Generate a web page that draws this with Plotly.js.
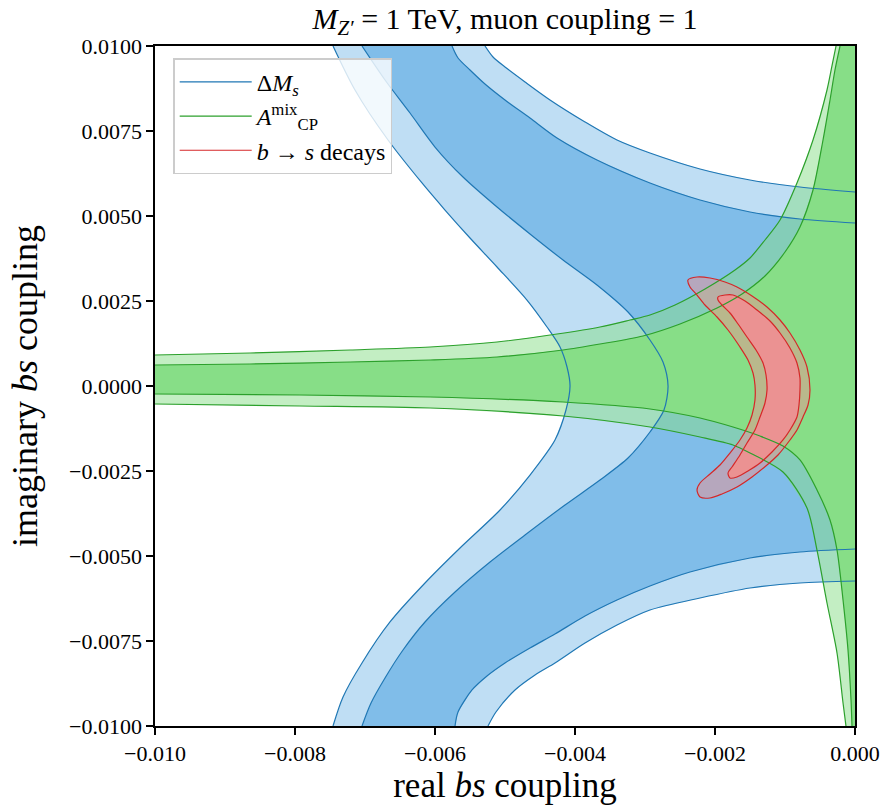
<!DOCTYPE html>
<html>
<head>
<meta charset="utf-8">
<script src="https://cdn.plot.ly/plotly-3.0.1.min.js"></script>
<style>html,body{margin:0;padding:0;background:#fff;}#chart{width:889px;height:807px;}</style>
</head>
<body>
<div id="chart"></div>
<script>
// Axis limits and ticks
const xRange = [-0.010, 0.000];
const yRange = [-0.0100, 0.0100];
const xTicks = [-0.010, -0.008, -0.006, -0.004, -0.002, 0.000];
const yTicks = [-0.0100, -0.0075, -0.0050, -0.0025, 0.0000, 0.0025, 0.0050, 0.0075, 0.0100];

// Delta M_s : 2 sigma boundary, left branch (top -> bottom)
const dmsOuterLeftX = [-0.007457,-0.007143,-0.006671,-0.006186,-0.005857,-0.0055,-0.005114,-0.004686,-0.0044,-0.004214,-0.004114,-0.004071,-0.004129,-0.004286,-0.004643,-0.005071,-0.005643,-0.006143,-0.006643,-0.007043,-0.007314,-0.007457];
const dmsOuterLeftY = [0.0100,0.008706,0.007235,0.005971,0.005176,0.004353,0.0035,0.002529,0.001735,0.001147,0.000559,0,-0.000706,-0.001588,-0.002618,-0.003647,-0.004765,-0.005794,-0.006941,-0.008147,-0.009147,-0.0100];
// Delta M_s : 1 sigma boundary, left branch (top -> bottom)
const dmsInnerLeftX = [-0.007043,-0.006714,-0.006357,-0.0060,-0.0056,-0.005114,-0.004643,-0.004171,-0.003686,-0.003243,-0.002929,-0.002743,-0.002671,-0.002729,-0.002929,-0.003243,-0.003643,-0.004143,-0.004714,-0.005214,-0.005714,-0.006143,-0.006457,-0.006714,-0.006914,-0.007043];
const dmsInnerLeftY = [0.0100,0.0090,0.008029,0.007029,0.006147,0.005265,0.004471,0.003706,0.002971,0.002176,0.001353,0.000706,0,-0.000706,-0.001353,-0.002118,-0.002765,-0.0035,-0.004382,-0.005176,-0.006059,-0.006941,-0.007765,-0.008588,-0.009324,-0.0100];
// Delta M_s : 1 sigma boundary, upper branch (top edge -> right edge)
const dmsInnerUpX = [-0.005757,-0.005671,-0.0055,-0.005286,-0.0050,-0.004643,-0.004257,-0.003686,-0.002929,-0.002214,-0.0015,-0.000786,0];
const dmsInnerUpY = [0.0100,0.009647,0.009294,0.008882,0.008412,0.007882,0.007294,0.006647,0.005971,0.005471,0.005118,0.004912,0.004794];
// Delta M_s : 2 sigma boundary, upper branch
const dmsOuterUpX = [-0.005286,-0.005171,-0.0050,-0.004714,-0.004357,-0.003857,-0.0034,-0.002929,-0.002214,-0.0015,-0.000786,0];
const dmsOuterUpY = [0.0100,0.009676,0.009382,0.008941,0.008412,0.007765,0.007235,0.006853,0.006382,0.006059,0.005853,0.005706];
// Delta M_s : 1 sigma boundary, lower branch (bottom edge -> right edge)
const dmsInnerLowX = [-0.005714,-0.005671,-0.005471,-0.005257,-0.0050,-0.004643,-0.004286,-0.003857,-0.0034,-0.002929,-0.002357,-0.0015,-0.000786,0];
const dmsInnerLowY = [-0.0100,-0.009588,-0.008941,-0.008529,-0.008147,-0.007706,-0.007294,-0.006765,-0.006294,-0.005882,-0.005471,-0.005059,-0.004882,-0.004794];
// Delta M_s : 2 sigma boundary, lower branch
const dmsOuterLowX = [-0.005243,-0.005129,-0.004857,-0.004571,-0.004286,-0.003857,-0.0034,-0.002929,-0.002214,-0.0015,-0.000786,0];
const dmsOuterLowY = [-0.0100,-0.009588,-0.008941,-0.0085,-0.008147,-0.007559,-0.007029,-0.006588,-0.006235,-0.005941,-0.005794,-0.005735];

// A_CP^mix : 2 sigma boundary, upper (left edge -> top edge)
const acpOuterUpX = [-0.010,-0.008643,-0.007214,-0.006071,-0.005114,-0.004257,-0.003643,-0.003214,-0.002929,-0.002571,-0.002143,-0.001714,-0.0015,-0.001286,-0.001071,-0.000829,-0.0006,-0.0004,-0.000329,-0.000271];
const acpOuterUpY = [0.000912,0.000971,0.001059,0.001147,0.001294,0.001529,0.001735,0.001941,0.002088,0.002382,0.002853,0.003412,0.003765,0.004294,0.004882,0.005971,0.007235,0.008706,0.009412,0.0100];
// A_CP^mix : 1 sigma boundary, upper
const acpInnerUpX = [-0.010,-0.008643,-0.007214,-0.006071,-0.005114,-0.004171,-0.003643,-0.003029,-0.0025,-0.001971,-0.001614,-0.001286,-0.0010,-0.000786,-0.0006,-0.000457,-0.000357,-0.000286,-0.000214];
const acpInnerUpY = [0.000618,0.000647,0.000706,0.000765,0.000853,0.001059,0.001235,0.001471,0.001824,0.002294,0.002706,0.003235,0.003941,0.004676,0.005765,0.007235,0.008412,0.009294,0.0100];
// A_CP^mix : 1 sigma boundary, lower (left edge -> bottom edge)
const acpInnerLowX = [-0.010,-0.007929,-0.006071,-0.004171,-0.002929,-0.002214,-0.001743,-0.001357,-0.001029,-0.000786,-0.000543,-0.000357,-0.000257,-0.000171,-0.0001,-0.000057,-0.000043];
const acpInnerLowY = [-0.000235,-0.000265,-0.000324,-0.000471,-0.000676,-0.000941,-0.001206,-0.001471,-0.001765,-0.002176,-0.003059,-0.003941,-0.004824,-0.006294,-0.007765,-0.009235,-0.0100];
// A_CP^mix : 2 sigma boundary, lower
const acpOuterLowX = [-0.010,-0.007929,-0.006071,-0.004171,-0.002929,-0.002214,-0.001743,-0.0015,-0.001029,-0.000686,-0.000543,-0.0004,-0.000257,-0.000171,-0.000129];
const acpOuterLowY = [-0.000529,-0.000588,-0.000647,-0.000882,-0.001206,-0.0015,-0.001735,-0.001971,-0.002529,-0.003588,-0.004824,-0.006382,-0.007853,-0.009324,-0.0100];

// b -> s decays : 2 sigma closed contour
const bsOuterX = [-0.002386,-0.002257,-0.002071,-0.001857,-0.001686,-0.001471,-0.001257,-0.001071,-0.000929,-0.000786,-0.000686,-0.000643,-0.000671,-0.000743,-0.000829,-0.000929,-0.0011,-0.001257,-0.001471,-0.001686,-0.0019,-0.002071,-0.002214,-0.002257,-0.002214,-0.002071,-0.001929,-0.001786,-0.001643,-0.001543,-0.001471,-0.001429,-0.001429,-0.001457,-0.001529,-0.001643,-0.001814,-0.001971,-0.002143,-0.002257,-0.002357];
const bsOuterY = [0.003118,0.003206,0.003176,0.003059,0.002912,0.002647,0.002324,0.001941,0.001559,0.001059,0.000559,-0.000118,-0.000559,-0.000912,-0.001294,-0.001588,-0.002029,-0.002324,-0.002676,-0.002971,-0.003176,-0.003294,-0.003265,-0.003059,-0.002853,-0.002588,-0.002324,-0.001971,-0.001588,-0.001235,-0.000853,-0.000412,0.000029,0.000382,0.000765,0.001147,0.001647,0.002029,0.002382,0.002676,0.002912];
// b -> s decays : 1 sigma closed contour
const bsInnerX = [-0.001957,-0.001857,-0.001743,-0.001571,-0.0014,-0.001214,-0.001071,-0.000929,-0.000829,-0.000786,-0.000786,-0.0008,-0.000829,-0.000929,-0.001029,-0.001186,-0.001357,-0.001529,-0.001686,-0.001786,-0.001814,-0.001757,-0.001643,-0.001543,-0.001429,-0.001357,-0.001286,-0.001257,-0.001271,-0.001314,-0.001414,-0.001543,-0.001671,-0.001786,-0.0019,-0.001957];
const bsInnerY = [0.002618,0.002676,0.002676,0.0025,0.002235,0.001912,0.001559,0.001118,0.000676,0.000235,-0.000118,-0.000559,-0.000912,-0.001294,-0.001588,-0.001941,-0.002265,-0.0025,-0.002676,-0.002706,-0.002559,-0.002382,-0.002029,-0.001676,-0.001294,-0.000912,-0.0005,-0.000118,0.000324,0.000676,0.001059,0.001441,0.001824,0.002147,0.002382,0.002529];

// Legend labels
const seriesNames = ['Δ<i>M</i><sub><i>s</i></sub>', '<i>A</i><sup>mix</sup><sub>CP</sub>', '<i>b</i> → <i>s</i> decays'];

const blueLine = '#1f77b4', greenLine = '#2ca02c', redLine = '#d62728';
const blueFill = 'rgb(128,189,233)', greenFill = 'rgb(135,222,135)', redFill = 'rgb(235,146,146)';
const blueFill2 = 'rgba(128,189,233,0.5)', greenFill2 = 'rgba(135,222,135,0.5)', redFill2 = 'rgba(235,146,146,0.5)';

const rev = a => a.slice().reverse();
const poly = (x, y, c) => ({type:'scatter', mode:'lines', x, y, fill:'toself', fillcolor:c,
  line:{width:0, color:c}, hoverinfo:'skip', showlegend:false});
const curve = (x, y, c, name) => ({type:'scatter', mode:'lines', x, y,
  line:{color:c, width:1.2, shape:'spline', smoothing:0.8}, hoverinfo:'skip',
  name: name || '', showlegend: !!name});

const traces = [
  // Delta M_s fills
  poly(dmsOuterUpX.concat(rev(dmsOuterLowX), rev(dmsOuterLeftX)),
       dmsOuterUpY.concat(rev(dmsOuterLowY), rev(dmsOuterLeftY)), blueFill2),
  poly(dmsInnerUpX.concat(rev(dmsInnerLowX), rev(dmsInnerLeftX)),
       dmsInnerUpY.concat(rev(dmsInnerLowY), rev(dmsInnerLeftY)), blueFill),
  // A_CP fills
  poly(acpOuterUpX.concat([xRange[1], xRange[1]], rev(acpOuterLowX)),
       acpOuterUpY.concat([yRange[1], yRange[0]], rev(acpOuterLowY)), greenFill2),
  poly(acpInnerUpX.concat([xRange[1], xRange[1]], rev(acpInnerLowX)),
       acpInnerUpY.concat([yRange[1], yRange[0]], rev(acpInnerLowY)), greenFill),
  // b->s fills
  poly(bsOuterX, bsOuterY, redFill2),
  poly(bsInnerX, bsInnerY, redFill),
  // contour lines
  curve(dmsOuterLeftX, dmsOuterLeftY, blueLine, seriesNames[0]),
  curve(dmsInnerLeftX, dmsInnerLeftY, blueLine),
  curve(dmsInnerUpX, dmsInnerUpY, blueLine),
  curve(dmsOuterUpX, dmsOuterUpY, blueLine),
  curve(dmsInnerLowX, dmsInnerLowY, blueLine),
  curve(dmsOuterLowX, dmsOuterLowY, blueLine),
  curve(acpOuterUpX, acpOuterUpY, greenLine, seriesNames[1]),
  curve(acpInnerUpX, acpInnerUpY, greenLine),
  curve(acpInnerLowX, acpInnerLowY, greenLine),
  curve(acpOuterLowX, acpOuterLowY, greenLine),
  curve(bsOuterX.concat([bsOuterX[0]]), bsOuterY.concat([bsOuterY[0]]), redLine, seriesNames[2]),
  curve(bsInnerX.concat([bsInnerX[0]]), bsInnerY.concat([bsInnerY[0]]), redLine)
];

const FONT = 'Liberation Serif, Times New Roman, serif';
const layout = {
  width: 889, height: 807,
  margin: {l:155, r:34, t:46, b:81},
  paper_bgcolor: '#fff', plot_bgcolor: '#fff',
  font: {family: FONT, color: '#000', size: 21},
  title: {text: '<i>M</i><sub><i>Z′</i></sub> = 1 TeV, muon coupling = 1',
          font: {family: FONT, size: 30, color:'#000'},
          x: 0.5, xref: 'paper', y: 0.977, yref: 'container', yanchor: 'middle'},
  xaxis: {range: xRange, tickvals: xTicks, tickformat: '.3f',
          showgrid: false, zeroline: false, showline: true, linecolor: '#000', linewidth: 1.6, mirror: true,
          ticks: 'outside', ticklen: 7, tickwidth: 1.3, tickcolor: '#000',
          tickfont: {family: FONT, size: 22},
          title: {text: 'real <i>bs</i> coupling', font: {family: FONT, size: 35}, standoff: 6}},
  yaxis: {range: yRange, tickvals: yTicks, tickformat: '.4f',
          showgrid: false, zeroline: false, showline: true, linecolor: '#000', linewidth: 1.6, mirror: true,
          ticks: 'outside', ticklen: 7, tickwidth: 1.3, tickcolor: '#000',
          tickfont: {family: FONT, size: 22},
          title: {text: 'imaginary <i>bs</i> coupling', font: {family: FONT, size: 36}, standoff: 20}},
  legend: {x: 0.026, y: 0.982, xanchor: 'left', yanchor: 'top', traceorder: 'normal',
           bgcolor: 'rgba(255,255,255,0.8)', bordercolor: '#cccccc', borderwidth: 1.5,
           font: {family: FONT, size: 24}, itemwidth: 72},
  showlegend: true
};

Plotly.newPlot('chart', traces, layout, {staticPlot: true, displayModeBar: false});
</script>
</body>
</html>
